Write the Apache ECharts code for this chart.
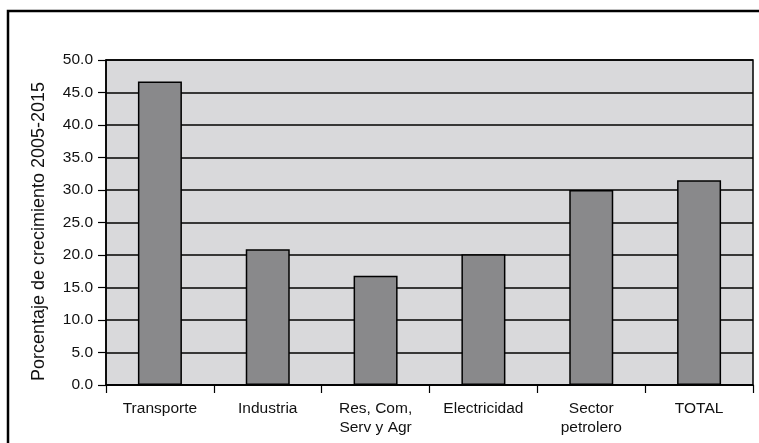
<!DOCTYPE html>
<html>
<head>
<meta charset="utf-8">
<script src="https://cdn.jsdelivr.net/npm/echarts@6/dist/echarts.min.js"></script>
<style>
  html, body { margin: 0; padding: 0; background: #fff; }
  #chart { width: 759px; height: 443px; }
</style>
</head>
<body>
<div id="chart"></div>
<script>
// categorias del eje x
const categories = ['Transporte', 'Industria', 'Res, Com,\nServ y Agr', 'Electricidad', 'Sector\npetrolero', 'TOTAL'];
// crecimiento 2005-2015 (%)
const growthValues = [46.7, 20.9, 16.8, 20.1, 30.0, 31.5];
const yTicks = { min: 0, max: 50, interval: 5 };
const yAxisTitle = 'Porcentaje de crecimiento 2005-2015';

const font = "'Liberation Sans', Arial, sans-serif";
const chart = echarts.init(document.getElementById('chart'));

const option = {
  animation: false,
  backgroundColor: '#fff',
  textStyle: { fontFamily: font },
  // marco exterior
  graphic: [{
    type: 'rect',
    shape: { x: 8, y: 11, width: 800, height: 500 },
    style: { fill: 'none', stroke: '#000', lineWidth: 2.5 },
    silent: true
  }],
  grid: {
    left: 106, right: 6, top: 60, bottom: 58,
    show: true,
    backgroundColor: '#d9d9db',
    borderColor: '#000',
    borderWidth: 1.5
  },
  xAxis: {
    type: 'category',
    data: categories,
    axisLine: { lineStyle: { color: '#000', width: 1.5 } },
    axisTick: { show: true, length: 8, lineStyle: { color: '#000', width: 1.2 } },
    axisLabel: {
      color: '#111', fontSize: 15.5, margin: 14, lineHeight: 19,
      fontFamily: font, interval: 0
    }
  },
  yAxis: {
    type: 'value',
    min: yTicks.min,
    max: yTicks.max,
    interval: yTicks.interval,
    name: yAxisTitle,
    nameLocation: 'middle',
    nameGap: 58,
    nameTextStyle: { color: '#111', fontSize: 18, fontFamily: font, padding: [0, 18, 0, 0] },
    axisLine: { show: true, lineStyle: { color: '#000', width: 1.5 } },
    axisTick: { show: true, length: 8, lineStyle: { color: '#000', width: 1.2 } },
    axisLabel: {
      color: '#111', fontSize: 15.5, margin: 13, fontFamily: font,
      formatter: v => v.toFixed(1)
    },
    splitLine: { show: true, lineStyle: { color: '#000', width: 1.5 } }
  },
  series: [{
    type: 'bar',
    data: growthValues,
    barWidth: 44,
    itemStyle: { color: '#89898b', borderColor: '#000', borderWidth: 1.5 }
  }]
};

chart.setOption(option);
</script>
</body>
</html>
